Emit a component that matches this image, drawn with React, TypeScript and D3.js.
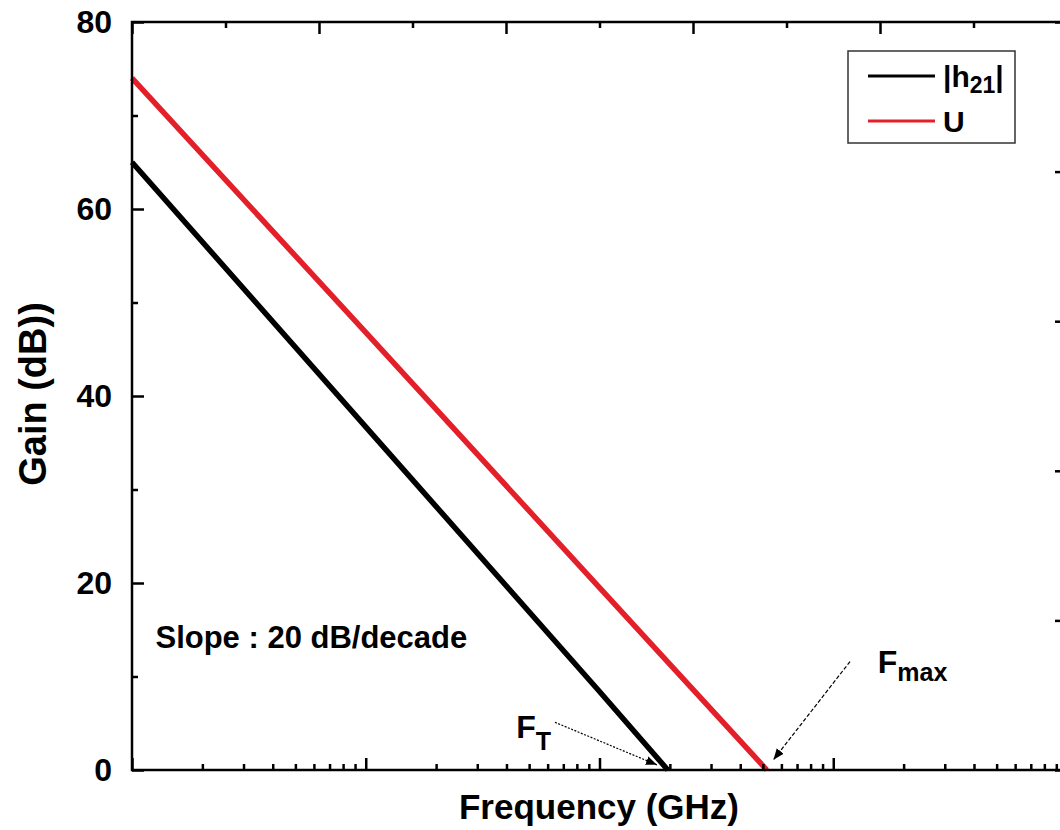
import React, { useRef, useEffect } from 'react';
import * as d3 from 'd3';

// frequency in GHz, gain in dB
const h21Freq = [0.1, 1, 10, 19.6];
const h21Gain = [65, 36.7, 8.4, 0];
const uFreq = [0.1, 1, 10, 52];
const uGain = [74, 46.8, 19.5, 0];

const yTicks = [0, 20, 40, 60, 80];
const yMinor = [10, 30, 50, 70];

const seriesNames = ['|h21|', 'U'];
const seriesColors = ['#000000', '#e3202a'];

const FONT = '"Liberation Sans", Arial, Helvetica, sans-serif';

const width = 1060;
const height = 830;
const margin = { left: 132, right: -7, top: 22, bottom: 60 };

const Chart = () => {
  const ref = useRef<SVGSVGElement>(null);

  useEffect(() => {
    const svg = d3.select(ref.current);
    svg.selectAll('*').remove();

    const x = d3.scaleLog().domain([0.1, 1000]).range([margin.left, width - margin.right]);
    const y = d3.scaleLinear().domain([0, 80]).range([height - margin.bottom, margin.top]);
    const [x0, x1] = x.range();
    const [y0, y1] = y.range();

    const defs = svg.append('defs');
    defs.append('marker')
      .attr('id', 'arrow')
      .attr('viewBox', '0 0 10 10')
      .attr('refX', 10)
      .attr('refY', 5)
      .attr('markerWidth', 11)
      .attr('markerHeight', 11)
      .attr('markerUnits', 'userSpaceOnUse')
      .attr('orient', 'auto')
      .append('path')
      .attr('d', 'M0,1 L10,5 L0,9 Z')
      .attr('fill', '#000');

    // data lines
    const line = d3.line<[number, number]>()
      .x(d => x(d[0]))
      .y(d => y(d[1]));

    const series = [
      d3.zip(h21Freq, h21Gain) as [number, number][],
      d3.zip(uFreq, uGain) as [number, number][],
    ];
    series.forEach((pts, i) => {
      svg.append('path')
        .datum(pts)
        .attr('d', line)
        .attr('fill', 'none')
        .attr('stroke', seriesColors[i])
        .attr('stroke-width', 5.5);
    });

    // frame
    svg.append('rect')
      .attr('x', x0).attr('y', y1)
      .attr('width', x1 - x0).attr('height', y0 - y1)
      .attr('fill', 'none')
      .attr('stroke', '#000')
      .attr('stroke-width', 2.5);

    const styleAxis = (g: any) => {
      g.select('.domain').remove();
      g.selectAll('line').attr('stroke', '#000').attr('stroke-width', 2.5);
      g.selectAll('text')
        .attr('font-family', FONT)
        .attr('font-weight', 'bold')
        .attr('font-size', 32)
        .attr('fill', '#000');
    };

    // bottom log axis
    const decades = [0.1, 1, 10, 100, 1000];
    const minors = x.ticks().filter(v => !decades.some(d => Math.abs(d - v) < 1e-9));
    svg.append('g')
      .attr('transform', `translate(0,${y0})`)
      .call(d3.axisBottom(x).tickValues(decades).tickSize(-12).tickFormat(() => ''))
      .call(styleAxis);
    svg.append('g')
      .attr('transform', `translate(0,${y0})`)
      .call(d3.axisBottom(x).tickValues(minors).tickSize(-6).tickFormat(() => ''))
      .call(styleAxis);

    // top axis (linear ticks)
    const top = d3.scaleLinear().domain([0, 10]).range([x0, x1]);
    svg.append('g')
      .attr('transform', `translate(0,${y1})`)
      .call(d3.axisTop(top).tickValues([0, 2, 4, 6, 8, 10]).tickSize(-12).tickFormat(() => ''))
      .call(styleAxis);
    svg.append('g')
      .attr('transform', `translate(0,${y1})`)
      .call(d3.axisTop(top).tickValues([1, 3, 5, 7, 9]).tickSize(-6).tickFormat(() => ''))
      .call(styleAxis);

    // left axis
    svg.append('g')
      .attr('transform', `translate(${x0},0)`)
      .call(d3.axisLeft(y).tickValues(yTicks).tickSize(-12).tickPadding(20).tickFormat(d3.format('d')))
      .call(styleAxis);
    svg.append('g')
      .attr('transform', `translate(${x0},0)`)
      .call(d3.axisLeft(y).tickValues(yMinor).tickSize(-6).tickFormat(() => ''))
      .call(styleAxis);

    // right axis (linear ticks)
    const right = d3.scaleLinear().domain([0, 10]).range([y0, y1]);
    svg.append('g')
      .attr('transform', `translate(${x1},0)`)
      .call(d3.axisRight(right).tickValues([0, 2, 4, 6, 8, 10]).tickSize(-12).tickFormat(() => ''))
      .call(styleAxis);
    svg.append('g')
      .attr('transform', `translate(${x1},0)`)
      .call(d3.axisRight(right).tickValues([1, 3, 5, 7, 9]).tickSize(-6).tickFormat(() => ''))
      .call(styleAxis);

    // axis titles
    svg.append('text')
      .attr('x', 599)
      .attr('y', 819)
      .attr('text-anchor', 'middle')
      .attr('font-family', FONT)
      .attr('font-weight', 'bold')
      .attr('font-size', 35)
      .text('Frequency (GHz)');

    svg.append('text')
      .attr('transform', `translate(46,${(y0 + y1) / 2 - 2}) rotate(-90)`)
      .attr('text-anchor', 'middle')
      .attr('font-family', FONT)
      .attr('font-weight', 'bold')
      .attr('font-size', 38)
      .text('Gain (dB))');

    // slope note
    svg.append('text')
      .attr('x', x(0.126))
      .attr('y', y(13.1))
      .attr('font-family', FONT)
      .attr('font-weight', 'bold')
      .attr('font-size', 31)
      .text('Slope : 20 dB/decade');

    // FT label + arrow
    const ft = svg.append('text')
      .attr('x', x(4.4))
      .attr('y', y(3.4))
      .attr('font-family', FONT)
      .attr('font-weight', 'bold')
      .attr('font-size', 32);
    ft.append('tspan').text('F');
    ft.append('tspan').attr('font-size', 25).attr('dy', 12).text('T');

    svg.append('line')
      .attr('x1', x(6.45)).attr('y1', y(5.1))
      .attr('x2', x(17.6)).attr('y2', y(0.55))
      .attr('stroke', '#000')
      .attr('stroke-width', 1.2)
      .attr('stroke-dasharray', '2,1.5')
      .attr('marker-end', 'url(#arrow)');

    // Fmax label + arrow
    const fm = svg.append('text')
      .attr('x', x(155))
      .attr('y', y(10.4))
      .attr('font-family', FONT)
      .attr('font-weight', 'bold')
      .attr('font-size', 32);
    fm.append('tspan').text('F');
    fm.append('tspan').attr('font-size', 25).attr('dy', 8).text('max');

    svg.append('line')
      .attr('x1', x(118)).attr('y1', y(11.6))
      .attr('x2', x(55.5)).attr('y2', y(1.1))
      .attr('stroke', '#000')
      .attr('stroke-width', 1.2)
      .attr('stroke-dasharray', '4,2')
      .attr('marker-end', 'url(#arrow)');

    // legend
    const lg = svg.append('g');
    lg.append('rect')
      .attr('x', 848).attr('y', 51)
      .attr('width', 167).attr('height', 92)
      .attr('fill', '#fff')
      .attr('stroke', '#333')
      .attr('stroke-width', 1.5);
    seriesNames.forEach((name, i) => {
      const ly = 76 + i * 45;
      lg.append('line')
        .attr('x1', 868).attr('x2', 935)
        .attr('y1', ly).attr('y2', ly)
        .attr('stroke', seriesColors[i])
        .attr('stroke-width', 3);
      const t = lg.append('text')
        .attr('x', 943)
        .attr('y', ly + 11)
        .attr('font-family', FONT)
        .attr('font-weight', 'bold')
        .attr('font-size', 30);
      if (i === 0) {
        t.append('tspan').text('|h');
        t.append('tspan').attr('font-size', 23).attr('dy', 6).text('21');
        t.append('tspan').attr('dy', -6).text('|');
      } else {
        t.text(name);
      }
    });

    return () => {
      d3.select(ref.current).selectAll('*').remove();
    };
  }, []);

  return (
    <svg
      ref={ref}
      width={width}
      height={height}
      style={{ position: 'absolute', left: 0, top: 0, background: '#fff' }}
    ></svg>
  );
};

export default function App() {
  return <Chart />;
}
